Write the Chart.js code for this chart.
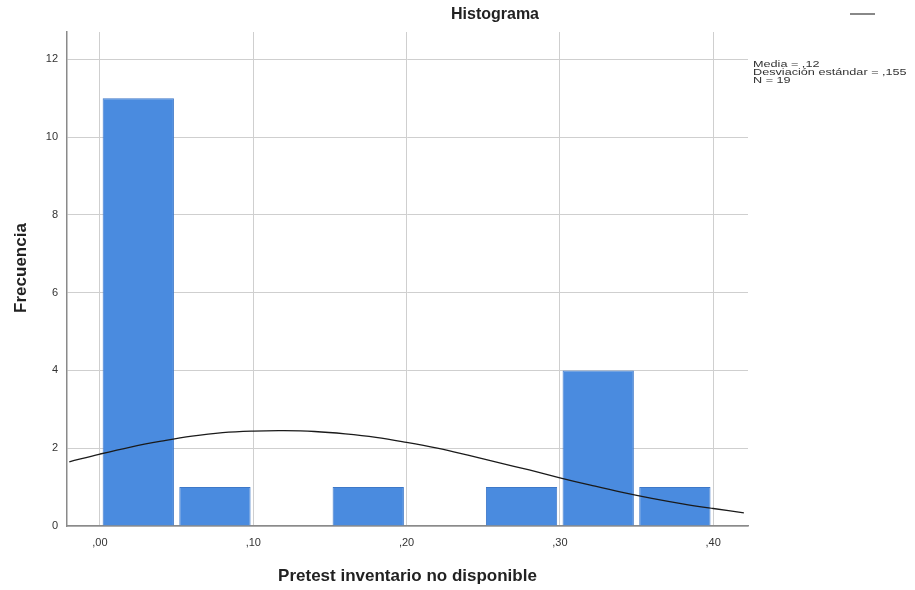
<!DOCTYPE html>
<html>
<head>
<meta charset="utf-8">
<script src="https://cdn.jsdelivr.net/npm/chart.js@4.4.1/dist/chart.umd.min.js"></script>
<style>
  html, body { margin: 0; padding: 0; background: #fff; }
  canvas { display: block; }
</style>
</head>
<body>
<canvas id="histChart" width="915" height="590"></canvas>
<script>
// bins of width 0.05 (centres) and their counts
const binCenters = [0.025, 0.075, 0.125, 0.175, 0.225, 0.275, 0.325, 0.375];
const binCounts = [11, 1, 0, 1, 0, 1, 4, 1];

// normal curve read along the x axis
const curveX = [-0.02, 0.00, 0.02, 0.04, 0.06, 0.08, 0.10, 0.12, 0.14, 0.16, 0.18, 0.20,
                0.22, 0.24, 0.26, 0.28, 0.30, 0.32, 0.34, 0.36, 0.38, 0.40, 0.42];
const curveY = [1.65, 1.85, 2.03, 2.18, 2.31, 2.40, 2.44, 2.45, 2.43, 2.37, 2.28, 2.15,
                2.00, 1.82, 1.63, 1.44, 1.24, 1.05, 0.87, 0.71, 0.57, 0.45, 0.34];

const xTickValues = [0, 0.1, 0.2, 0.3, 0.4];
const xTickLabels = [',00', ',10', ',20', ',30', ',40'];
const yTickValues = [0, 2, 4, 6, 8, 10, 12];

const statLines = ['Media = ,12', 'Desviación estándar = ,155', 'N = 19'];

const FONT = '"Liberation Sans", Arial, sans-serif';

const extraText = {
    id: 'extraText',
    afterDraw(chart) {
        const ctx = chart.ctx;
        const area = chart.chartArea;
        ctx.save();
        ctx.fillStyle = '#222';
        ctx.textAlign = 'center';
        ctx.textBaseline = 'middle';
        ctx.font = 'bold 16px ' + FONT;
        ctx.fillText('Histograma', 495, 15);

        ctx.font = 'bold 17px ' + FONT;
        ctx.fillText('Pretest inventario no disponible', (area.left + area.right) / 2, 576);

        ctx.save();
        ctx.translate(21, 268);
        ctx.rotate(-Math.PI / 2);
        ctx.fillText('Frecuencia', 0, 0);
        ctx.restore();

        // stats box, slightly squashed text
        ctx.fillStyle = '#333';
        ctx.textAlign = 'left';
        ctx.textBaseline = 'alphabetic';
        ctx.font = '11px ' + FONT;
        statLines.forEach((s, i) => {
            ctx.save();
            ctx.translate(753, 67 + i * 8);
            ctx.scale(1.15, 0.8);
            ctx.fillText(s, 0, 0);
            ctx.restore();
        });

        // legend swatch for the curve
        ctx.strokeStyle = '#888';
        ctx.lineWidth = 2;
        ctx.beginPath();
        ctx.moveTo(850, 14);
        ctx.lineTo(875, 14);
        ctx.stroke();
        ctx.restore();
    }
};

new Chart(document.getElementById('histChart').getContext('2d'), {
    data: {
        datasets: [
            {
                type: 'line',
                data: curveX.map((x, i) => ({ x, y: curveY[i] })),
                borderColor: '#1a1a1a',
                borderWidth: 1.3,
                pointRadius: 0,
                tension: 0.4,
                fill: false,
                order: 0
            },
            {
                type: 'bar',
                data: binCenters.map((x, i) => ({ x, y: binCounts[i] })),
                backgroundColor: 'rgb(74, 139, 223)',
                borderColor: 'rgb(62, 120, 200)',
                borderWidth: 1,
                barPercentage: 0.93,
                categoryPercentage: 1.0,
                order: 1
            }
        ]
    },
    options: {
        responsive: false,
        animation: false,
        layout: { padding: { top: 32, right: 167, left: 0, bottom: 0 } },
        plugins: { legend: { display: false }, tooltip: { enabled: false } },
        scales: {
            x: {
                type: 'linear',
                offset: false,
                min: -0.0215,
                max: 0.4227,
                afterBuildTicks: axis => { axis.ticks = xTickValues.map(v => ({ value: v })); },
                afterFit: axis => { axis.height = 64; },
                ticks: {
                    callback: (v, i) => xTickLabels[i],
                    color: '#333',
                    font: { family: FONT, size: 11 },
                    padding: 10,
                    maxRotation: 0
                },
                grid: { color: '#cfcfcf', lineWidth: 1, drawTicks: false, offset: false },
                border: { color: '#8a8a8a', width: 1.5 }
            },
            y: {
                type: 'linear',
                min: 0,
                max: 12.7,
                afterBuildTicks: axis => { axis.ticks = yTickValues.map(v => ({ value: v })); },
                afterFit: axis => { axis.width = 67; },
                ticks: {
                    color: '#333',
                    font: { family: FONT, size: 11 },
                    padding: 9
                },
                grid: { color: '#cfcfcf', lineWidth: 1, drawTicks: false },
                border: { color: '#8a8a8a', width: 1.5 }
            }
        }
    },
    plugins: [extraText]
});
</script>
</body>
</html>
